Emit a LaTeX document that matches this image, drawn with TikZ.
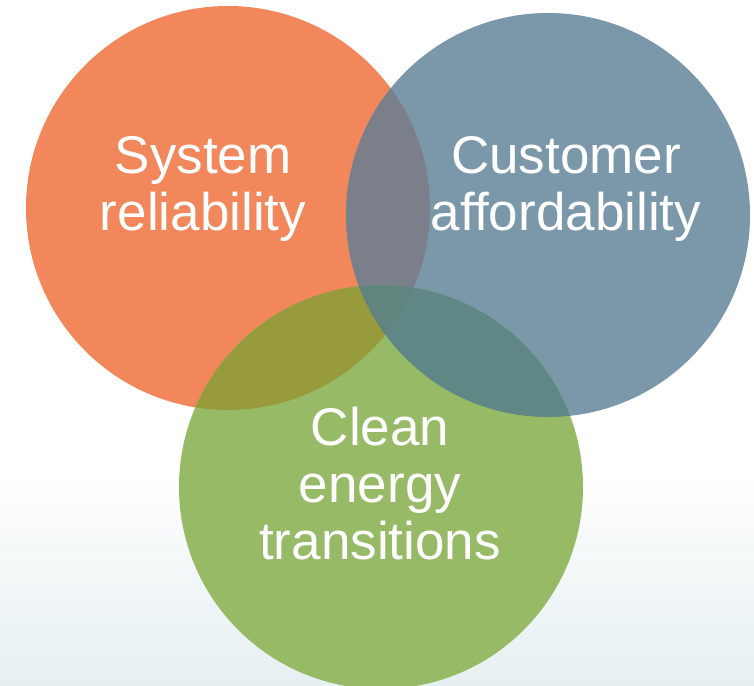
\documentclass[tikz,border=0pt]{standalone}
\usepackage{fontspec}
\setmainfont[Ligatures=NoCommon]{Liberation Sans}

\definecolor{vorange}{HTML}{F2875C}
\definecolor{vblue}{HTML}{7B98AB}
\definecolor{vgreen}{HTML}{97BA66}
\definecolor{vorblue}{HTML}{7A7F8A}
\definecolor{vorgreen}{HTML}{979B3C}
\definecolor{vbluegreen}{HTML}{5F8786}
\definecolor{vall}{HTML}{62847F}
\definecolor{vback}{HTML}{E6EFF1}

\begin{document}
\begin{tikzpicture}[x=1pt,y=-1pt]
    \tikzstyle{vlabel}=[text=white,align=center,font=\fontsize{53}{57}\selectfont]

    \useasboundingbox (0,0) rectangle (754,685);
    \fill[white] (0,0) rectangle (754,685);
    \shade[top color=white,bottom color=vback] (0,470) rectangle (754,685);

    \coordinate (corange) at (228,208);
    \coordinate (cblue) at (548,215);
    \coordinate (cgreen) at (381,487);

    % the three sets
    \foreach \p/\c in {corange/vorange, cblue/vblue, cgreen/vgreen} {
        \fill[\c] (\p) circle (202pt);
    }

    % pairwise overlaps
    \foreach \p/\q/\c in {corange/cblue/vorblue, corange/cgreen/vorgreen, cblue/cgreen/vbluegreen} {
        \begin{scope}
            \clip (\p) circle (202pt);
            \fill[\c] (\q) circle (202pt);
        \end{scope}
    }

    % middle
    \begin{scope}
        \clip (corange) circle (202pt);
        \clip (cblue) circle (202pt);
        \fill[vall] (cgreen) circle (202pt);
    \end{scope}

    \node[vlabel] (reliab) at (203,189) {System\\reliability};
    \node[vlabel] (afford) at (566,189) {Customer\\affordability};
    \node[vlabel] (clean) at (380,484) {Clean\\energy\\transitions};

\end{tikzpicture}
\end{document}
